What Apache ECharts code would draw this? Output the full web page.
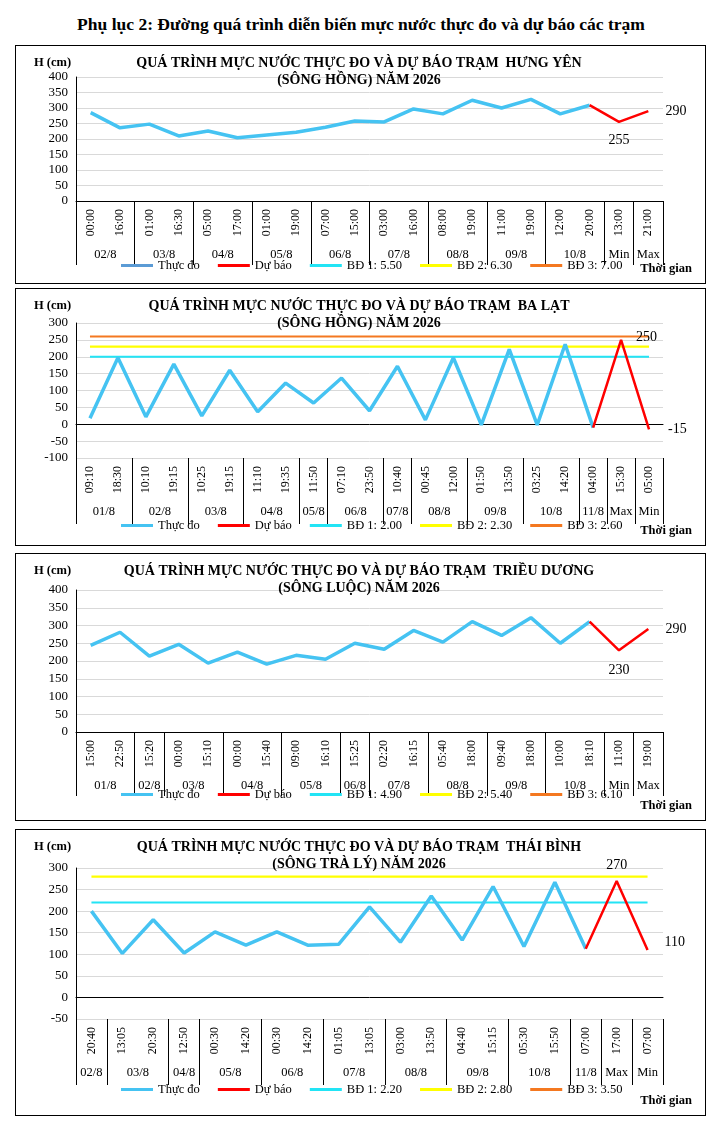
<!DOCTYPE html>
<html><head><meta charset="utf-8">
<script src="https://cdn.jsdelivr.net/npm/echarts@6/dist/echarts.min.js"></script>
<style>
body{margin:0;background:#fff;font-family:"Liberation Serif",serif;}
#hd{position:absolute;left:0;top:14px;width:722px;text-align:center;font-weight:bold;font-size:17.5px;}
.p{position:absolute;left:15px;width:691px;border:1px solid #000;box-sizing:border-box;}
</style></head><body>
<div id="hd">Phụ lục 2: Đường quá trình diễn biến mực nước thực đo và dự báo các trạm</div>
<div class="p" id="c1" style="top:45px;height:239px"></div>
<div class="p" id="c2" style="top:288px;height:258px"></div>
<div class="p" id="c3" style="top:553px;height:268px"></div>
<div class="p" id="c4" style="top:829px;height:287px"></div>
<script>
// ---- Panel 1: Hưng Yên
const hyTimes=["00:00","16:00","01:00","16:30","05:00","17:00","01:00","19:00","07:00","15:00","03:00","16:00","08:00","19:00","11:00","19:00","12:00","20:00","13:00","21:00"];
const hyGroups=[["02/8",2],["03/8",2],["04/8",2],["05/8",2],["06/8",2],["07/8",2],["08/8",2],["09/8",2],["10/8",2],["Min",1],["Max",1]];
const hyObs=[285,236,248,210,226,204,213,222,238,258,255,297,281,325,300,328,281,309];
const hyFc=[309,255,290];
const hyBD=[550,630,700];
// ---- Panel 2: Ba Lạt
const blTimes=["09:10","18:30","10:10","19:15","10:25","19:15","11:10","19:35","11:50","07:10","23:50","10:40","00:45","12:00","01:50","13:50","03:25","14:20","04:00","15:30","05:00"];
const blGroups=[["01/8",2],["02/8",2],["03/8",2],["04/8",2],["05/8",1],["06/8",2],["07/8",1],["08/8",2],["09/8",2],["10/8",2],["11/8",1],["Max",1],["Min",1]];
const blObs=[18,197,22,178,25,160,37,122,63,137,40,172,13,197,-2,222,-2,237,-10];
const blFc=[-10,250,-15];
const blBD=[200,230,260];
// ---- Panel 3: Triều Dương
const tdTimes=["15:00","22:50","15:20","00:00","15:10","00:00","15:40","09:00","16:10","15:25","02:20","16:15","05:40","18:00","09:40","18:00","10:00","18:10","11:00","19:00"];
const tdGroups=[["01/8",2],["02/8",1],["03/8",2],["04/8",2],["05/8",2],["06/8",1],["07/8",2],["08/8",2],["09/8",2],["10/8",2],["Min",1],["Max",1]];
const tdObs=[244,281,214,247,194,225,191,216,205,250,233,286,253,311,272,322,250,311];
const tdFc=[311,230,290];
const tdBD=[490,540,610];
// ---- Panel 4: Thái Bình
const tbTimes=["20:40","13:05","20:30","12:50","00:30","14:20","00:30","14:20","01:05","13:05","03:00","13:50","04:40","15:15","05:30","15:50","07:00","17:00","07:00"];
const tbGroups=[["02/8",1],["03/8",2],["04/8",1],["05/8",2],["06/8",2],["07/8",2],["08/8",2],["09/8",2],["10/8",2],["11/8",1],["Max",1],["Min",1]];
const tbObs=[200,102,180,103,152,121,152,121,123,210,128,235,133,257,118,267,113];
const tbFc=[113,270,110];
const tbBD=[220,280,350];

const FONT='"Liberation Serif",serif';
function make(id,cfg){
  const el=document.getElementById(id);
  const ch=echarts.init(el);
  const N=cfg.times.length;
  const gcat=new Array(2*N+1).fill('');
  const bounds=new Set([0]);
  let s=0;
  cfg.groups.forEach(([name,len])=>{gcat[2*s+len]=name; s+=len; bounds.add(2*s);});
  const obs=cfg.obs.concat(new Array(N-cfg.obs.length).fill(null));
  const fcStart=cfg.obs.length-1;
  const fc=new Array(N).fill(null);
  cfg.fc.forEach((v,i)=>{
    const idx=fcStart+i;
    if(i===0) fc[idx]=v;
    else fc[idx]={value:v,label:Object.assign({show:true,fontFamily:FONT,fontSize:14,color:'#000',formatter:'{c}'},cfg.lab[i-1])};
  });
  const bdCol=['#22e4f5','#ffff00','#f47820'];
  const series=[
    {name:'Thực đo',type:'line',data:obs,symbol:'none',lineStyle:{width:3.5,color:'#45c3f2'},itemStyle:{color:cfg.obsLegend||'#45c3f2'},z:5},
    {name:'Dự báo',type:'line',data:fc,symbol:'circle',symbolSize:0.1,showSymbol:true,lineStyle:{width:2.5,color:'#ff0000'},itemStyle:{color:'#ff0000'},z:6}
  ];
  cfg.bd.forEach((v,i)=>series.push({name:'BĐ '+(i+1)+': '+(v/100).toFixed(2),type:'line',data:new Array(N).fill(v),symbol:'none',lineStyle:{width:2.2,color:bdCol[i]},itemStyle:{color:bdCol[i]},z:3}));
  ch.setOption({
    animation:false,
    textStyle:{fontFamily:FONT},
    title:[
      {text:cfg.title,left:338,top:4,textAlign:'center',textStyle:{fontFamily:FONT,fontSize:14,fontWeight:'bold',lineHeight:17,color:'#000'}},
      {text:'H (cm)',left:13,top:5,textStyle:{fontFamily:FONT,fontSize:12.5,fontWeight:'bold',color:'#000'}},
      {text:'Thời gian',right:8,bottom:3,textStyle:{fontFamily:FONT,fontSize:12.5,fontWeight:'bold',color:'#000'}}
    ],
    legend:{bottom:cfg.legB,left:100,itemWidth:32,itemHeight:3,itemGap:18,icon:'rect',textStyle:{fontFamily:FONT,fontSize:12.5,color:'#000'},data:series.map(x=>x.name)},
    grid:{left:60,right:42,top:cfg.top,bottom:cfg.bottom},
    xAxis:[
      {type:'category',data:cfg.times,axisLine:{lineStyle:{color:'#000'}},axisTick:{show:false},
       axisLabel:{rotate:90,interval:0,color:'#000',fontSize:12,fontFamily:FONT,margin:8}},
      {type:'category',data:gcat,boundaryGap:false,position:'bottom',axisLine:{show:false},
       axisTick:{show:true,length:cfg.tickLen,interval:(i)=>bounds.has(i),lineStyle:{color:'#000'}},
       axisLabel:{interval:0,color:'#000',fontSize:12.5,fontFamily:FONT,margin:47,showMinLabel:true,showMaxLabel:true}}
    ],
    yAxis:{type:'value',min:cfg.min,max:cfg.max,interval:50,
      axisLine:{show:true,lineStyle:{color:'#000'}},axisTick:{show:false},
      axisLabel:{color:'#000',fontSize:13,fontFamily:FONT,margin:8},
      splitLine:{lineStyle:{color:'#d9d9d9'}}},
    series:series
  });
}
make('c1',{title:'QUÁ TRÌNH MỰC NƯỚC THỰC ĐO VÀ DỰ BÁO TRẠM  HƯNG YÊN\n(SÔNG HỒNG) NĂM 2026',times:hyTimes,groups:hyGroups,obs:hyObs,fc:hyFc,bd:hyBD,min:0,max:400,top:31,bottom:82,tickLen:64,legB:6,obsLegend:'#5b9bd5',
  lab:[{position:'bottom',offset:[0,6]},{position:'right',offset:[12,0]}]});
make('c2',{title:'QUÁ TRÌNH MỰC NƯỚC THỰC ĐO VÀ DỰ BÁO TRẠM  BA LẠT\n(SÔNG HỒNG) NĂM 2026',times:blTimes,groups:blGroups,obs:blObs,fc:blFc,bd:blBD,min:-100,max:300,top:34,bottom:87,tickLen:66,legB:8,
  lab:[{position:'right',offset:[10,-3]},{position:'right',offset:[14,0]}]});
make('c3',{title:'QUÁ TRÌNH MỰC NƯỚC THỰC ĐO VÀ DỰ BÁO TRẠM  TRIỀU DƯƠNG\n(SÔNG LUỘC) NĂM 2026',times:tdTimes,groups:tdGroups,obs:tdObs,fc:tdFc,bd:tdBD,min:0,max:400,top:36,bottom:88,tickLen:64,legB:14,
  lab:[{position:'bottom',offset:[0,8]},{position:'right',offset:[12,0]}]});
make('c4',{title:'QUÁ TRÌNH MỰC NƯỚC THỰC ĐO VÀ DỰ BÁO TRẠM  THÁI BÌNH\n(SÔNG TRÀ LÝ) NĂM 2026',times:tbTimes,groups:tbGroups,obs:tbObs,fc:tbFc,bd:tbBD,min:-50,max:300,top:38,bottom:96,tickLen:66,legB:14,
  lab:[{position:'top',offset:[0,-4]},{position:'right',offset:[12,-8]}]});
</script></body></html>
